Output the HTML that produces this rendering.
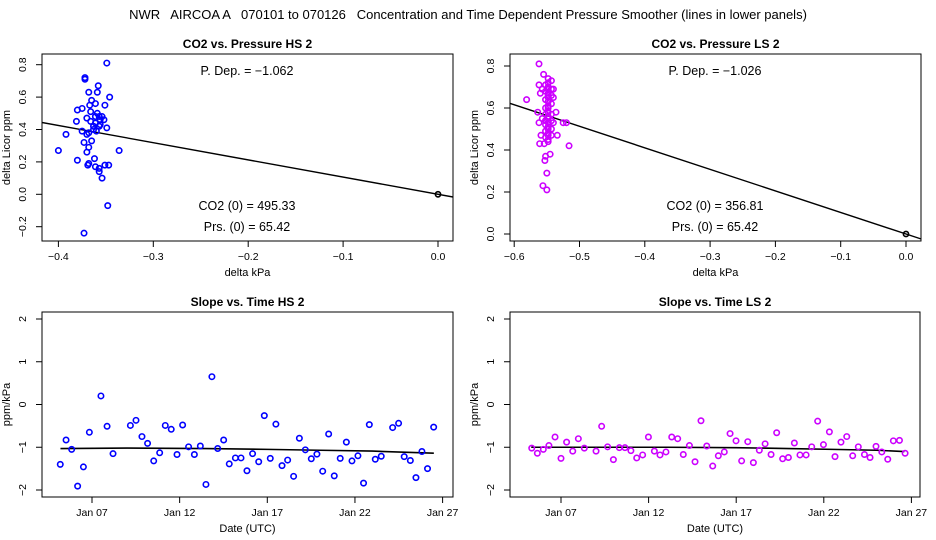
<!DOCTYPE html>
<html><head><meta charset="utf-8"><style>
html,body{margin:0;padding:0;background:#fff;}
svg{display:block;font-family:"Liberation Sans",sans-serif;}
#mt{white-space:pre;}
</style></head><body>
<svg id="c" width="936" height="540" viewBox="0 0 936 540">
<text id="mt" x="468" y="19" font-size="13" text-anchor="middle" xml:space="preserve">NWR   AIRCOA A   070101 to 070126   Concentration and Time Dependent Pressure Smoother (lines in lower panels)</text>
</svg>
<script>
// ---- Panel 1 data (CO2 vs Pressure HS 2)
const hsX=[-0.349,-0.372,-0.372,-0.358,-0.359,-0.368,-0.346,-0.351,-0.380,-0.375,-0.365,-0.367,-0.361,-0.381,-0.370,-0.366,-0.359,-0.357,-0.356,-0.361,-0.352,-0.349,-0.363,-0.357,-0.360,-0.363,-0.356,-0.354,-0.361,-0.366,-0.375,-0.392,-0.370,-0.368,-0.373,-0.365,-0.368,-0.400,-0.336,-0.370,-0.380,-0.362,-0.369,-0.368,-0.361,-0.357,-0.357,-0.347,-0.351,-0.354,-0.348,-0.373];
const hsY=[0.81,0.72,0.71,0.67,0.63,0.63,0.60,0.55,0.52,0.53,0.58,0.55,0.56,0.45,0.47,0.51,0.50,0.48,0.46,0.44,0.46,0.41,0.42,0.42,0.39,0.40,0.43,0.48,0.48,0.45,0.39,0.37,0.37,0.38,0.32,0.33,0.29,0.27,0.27,0.26,0.21,0.22,0.18,0.19,0.17,0.16,0.14,0.18,0.18,0.10,-0.07,-0.24];
const hsSlope=-1.062;
// ---- Panel 2 data (CO2 vs Pressure LS 2)
const lsX=[-0.562,-0.555,-0.581,-0.562,-0.560,-0.536,-0.534,-0.516,-0.525,-0.520,-0.564,-0.562,-0.559,-0.561,-0.554,-0.552,-0.553,-0.550,-0.556,-0.550,
-0.548,-0.548,-0.548,-0.548,-0.548,-0.548,-0.548,-0.548,-0.548,-0.548,-0.548,-0.548,-0.548,-0.548,-0.548,-0.548,-0.548,-0.548,-0.548,-0.548,
-0.552,-0.552,-0.552,-0.552,-0.552,-0.552,-0.552,-0.552,-0.552,-0.543,-0.543,-0.543,-0.543,-0.543,-0.543,-0.543,-0.543,-0.540,-0.540,-0.545,-0.557,-0.557,-0.540];
const lsY=[0.81,0.76,0.64,0.71,0.67,0.58,0.47,0.42,0.53,0.53,0.58,0.53,0.47,0.43,0.43,0.37,0.35,0.29,0.23,0.21,
0.74,0.72,0.70,0.69,0.67,0.66,0.65,0.63,0.61,0.60,0.58,0.56,0.55,0.53,0.51,0.50,0.48,0.47,0.45,0.44,
0.71,0.68,0.64,0.60,0.57,0.54,0.52,0.49,0.46,0.73,0.69,0.66,0.62,0.57,0.54,0.50,0.47,0.69,0.65,0.38,0.69,0.55,0.53];
const lsSlope=-1.026;
// ---- Panel 3 data (Slope vs Time HS 2), time in January day
const hsT=[5.19,5.52,5.84,6.18,6.51,6.85,7.51,7.86,8.20,9.19,9.51,9.85,10.17,10.52,10.86,11.18,11.52,11.85,12.17,12.51,12.84,13.18,13.50,13.84,14.17,14.51,14.83,15.18,15.50,15.84,16.16,16.51,16.83,17.17,17.49,17.84,18.16,18.50,18.83,19.17,19.51,19.83,20.16,20.50,20.82,21.16,21.51,21.83,22.17,22.49,22.82,23.16,23.50,24.15,24.49,24.81,25.16,25.48,25.82,26.14,26.49];
const hsV=[-1.40,-0.83,-1.05,-1.91,-1.46,-0.65,0.20,-0.51,-1.15,-0.49,-0.37,-0.75,-0.91,-1.32,-1.13,-0.49,-0.58,-1.17,-0.48,-0.99,-1.17,-0.97,-1.87,0.65,-1.03,-0.83,-1.39,-1.25,-1.25,-1.55,-1.15,-1.34,-0.26,-1.26,-0.46,-1.43,-1.30,-1.68,-0.79,-1.06,-1.27,-1.16,-1.56,-0.69,-1.67,-1.26,-0.88,-1.32,-1.20,-1.84,-0.47,-1.28,-1.21,-0.54,-0.44,-1.22,-1.31,-1.71,-1.10,-1.50,-0.53];
const hsLineT=[5.2,9,13.5,17,20,23,26.5];
const hsLineV=[-1.03,-1.02,-1.03,-1.05,-1.07,-1.09,-1.14];
// ---- Panel 4 data (Slope vs Time LS 2)
const lsT=[5.33,5.65,5.99,6.31,6.66,7.00,7.32,7.67,7.99,8.33,9.00,9.32,9.66,9.99,10.33,10.65,10.99,11.32,11.66,11.99,12.33,12.65,12.99,13.32,13.66,13.98,14.33,14.65,14.99,15.32,15.66,15.98,16.32,16.65,16.99,17.31,17.66,17.98,18.32,18.65,18.99,19.31,19.65,19.98,20.32,20.64,20.99,21.31,21.65,21.98,22.32,22.64,22.98,23.31,23.65,23.97,24.32,24.64,24.98,25.31,25.65,25.97,26.32,26.64];
const lsV=[-1.02,-1.14,-1.05,-0.96,-0.76,-1.26,-0.88,-1.09,-0.80,-1.02,-1.09,-0.51,-0.99,-1.29,-1.01,-1.01,-1.08,-1.25,-1.18,-0.76,-1.09,-1.18,-1.11,-0.76,-0.80,-1.17,-0.96,-1.34,-0.38,-0.97,-1.44,-1.20,-1.11,-0.68,-0.85,-1.32,-0.87,-1.36,-1.07,-0.92,-1.17,-0.66,-1.27,-1.24,-0.90,-1.18,-1.18,-0.99,-0.39,-0.94,-0.64,-1.22,-0.88,-0.75,-1.20,-0.99,-1.17,-1.24,-0.98,-1.11,-1.28,-0.85,-0.84,-1.14];
const lsLineT=[5.3,13,17,20,22.5,25,26.6];
const lsLineV=[-1.00,-1.00,-1.01,-1.03,-1.05,-1.07,-1.10];
const xTicks1=[-0.4,-0.3,-0.2,-0.1,0.0];
const yTicks1=[-0.2,0.0,0.2,0.4,0.6,0.8];
const xTicks2=[-0.6,-0.5,-0.4,-0.3,-0.2,-0.1,0.0];
const yTicks2=[0.0,0.2,0.4,0.6,0.8];
const dayTicks=[7,12,17,22,27];
const dayLabels=["Jan 07","Jan 12","Jan 17","Jan 22","Jan 27"];
const vTicks=[-2,-1,0,1,2];
const vLabels=["\u22122","\u22121","0","1","2"];

const svg=document.getElementById('c');
const NS='http://www.w3.org/2000/svg';
function mk(tag,attrs,parent){const e=document.createElementNS(NS,tag);for(const k in attrs)e.setAttribute(k,attrs[k]);(parent||svg).appendChild(e);return e;}
function fmt(v,d){const s=Math.abs(v).toFixed(d);return (v<0?'\u2212':'')+s;}

function panel(p){
  const g=mk('g',{});
  
  
  const box=mk('rect',{x:p.L,y:p.T,width:p.R-p.L,height:p.B-p.T,fill:'none',stroke:'#000','stroke-width':1},g);
  
  
  const t=mk('text',{x:(p.L+p.R)/2,y:p.T-6,'font-size':12,'font-weight':'bold','text-anchor':'middle'},g);
  t.textContent=p.title;
  
  
  p.xt.forEach((v,i)=>{const x=p.sx(v);
    mk('line',{x1:x,x2:x,y1:p.B,y2:p.B+6,stroke:'#000'},g);
    const l=mk('text',{x:x,y:p.B+19,'font-size':10.5,'text-anchor':'middle'},g);
    l.textContent=p.xl[i];
    
    });
  p.yt.forEach((v,i)=>{const y=p.sy(v);
    mk('line',{x1:p.L-6,x2:p.L,y1:y,y2:y,stroke:'#000'},g);
    const l=mk('text',{x:p.L-16,y:y,'font-size':10.5,'text-anchor':'middle',transform:`rotate(-90 ${p.L-16} ${y})`},g);
    l.textContent=p.yl[i];
    
    });
  const xa=mk('text',{x:(p.L+p.R)/2,y:p.B+35,'font-size':11,'text-anchor':'middle'},g);
  xa.textContent=p.xlab;
  
  
  const yx=p.L-32,ym=(p.T+p.B)/2;
  const ya=mk('text',{x:yx,y:ym,'font-size':11,'text-anchor':'middle',transform:`rotate(-90 ${yx} ${ym})`},g);
  ya.textContent=p.ylab;
  
  
  return g;
}
function clipFor(id,p){const cp=mk('clipPath',{id:id});mk('rect',{x:p.L,y:p.T,width:p.R-p.L,height:p.B-p.T},cp);}

const P1={name:'panel-co2-pressure-hs',L:42,R:453,T:54,B:241,title:'CO2 vs. Pressure HS 2',
  sx:v=>438+v*949,sy:v=>194.3-v*162,xlab:'delta kPa',ylab:'delta Licor ppm'};
P1.xt=xTicks1;P1.xl=xTicks1.map(v=>fmt(v,1));P1.yt=yTicks1;P1.yl=yTicks1.map(v=>fmt(v,1));
const P2={name:'panel-co2-pressure-ls',L:510,R:921,T:54,B:241,title:'CO2 vs. Pressure LS 2',
  sx:v=>906+v*653,sy:v=>234-v*210,xlab:'delta kPa',ylab:'delta Licor ppm'};
P2.xt=xTicks2;P2.xl=xTicks2.map(v=>fmt(v,1));P2.yt=yTicks2;P2.yl=yTicks2.map(v=>fmt(v,1));
const P3={name:'panel-slope-time-hs',L:42,R:453,T:312,B:497,title:'Slope vs. Time HS 2',
  sx:d=>92+(d-7)*17.53,sy:v=>404.5-v*42.75,xlab:'Date (UTC)',ylab:'ppm/kPa'};
P3.xt=dayTicks;P3.xl=dayLabels;P3.yt=vTicks;P3.yl=vLabels;
const P4={name:'panel-slope-time-ls',L:510,R:920,T:312,B:497,title:'Slope vs. Time LS 2',
  sx:d=>561+(d-7)*17.52,sy:v=>404.5-v*42.75,xlab:'Date (UTC)',ylab:'ppm/kPa'};
P4.xt=dayTicks;P4.xl=dayLabels;P4.yt=vTicks;P4.yl=vLabels;

[P1,P2,P3,P4].forEach((p,i)=>{p.g=panel(p);clipFor('cl'+i,p);p.clip='url(#cl'+i+')';});

function fitLine(p,slope){
  const xa=-1,xb=0.1;
  const l=mk('line',{x1:p.sx(xa),y1:p.sy(slope*xa),x2:p.sx(xb),y2:p.sy(slope*xb),stroke:'#000','stroke-width':1.4,'clip-path':p.clip},p.g);
  
  
  const o=mk('circle',{cx:p.sx(0),cy:p.sy(0),r:2.6,fill:'none',stroke:'#000','stroke-width':1.6},p.g);
  
  
}
function points(p,xs,ys,col,name){
  xs.forEach((x,i)=>{const c=mk('circle',{cx:p.sx(x),cy:p.sy(ys[i]),r:2.7,fill:'none',stroke:col,'stroke-width':1.6},p.g);
    
    });
}
function ann(p,x,y,s,nm){const t=mk('text',{x:x,y:y,'font-size':12.5,'text-anchor':'middle'},p.g);t.textContent=s;
  
  }
function smooth(p,ts,vs){
  const pl=mk('polyline',{points:ts.map((t,i)=>p.sx(t)+','+p.sy(vs[i])).join(' '),fill:'none',stroke:'#000','stroke-width':1.6},p.g);
  
  
}

fitLine(P1,hsSlope);
points(P1,hsX,hsY,'#0000ff','hs-point');
ann(P1,247,75,'P. Dep. =  '+fmt(hsSlope,3),'pressure-dependence-label');
ann(P1,247,210,'CO2 (0) =  495.33','co2-zero-label');
ann(P1,247,231,'Prs. (0) =  65.42','pressure-zero-label');

fitLine(P2,lsSlope);
points(P2,lsX,lsY,'#cc00ff','ls-point');
ann(P2,715,75,'P. Dep. =  '+fmt(lsSlope,3),'pressure-dependence-label');
ann(P2,715,210,'CO2 (0) =  356.81','co2-zero-label');
ann(P2,715,231,'Prs. (0) =  65.42','pressure-zero-label');

smooth(P3,hsLineT,hsLineV);
points(P3,hsT,hsV,'#0000ff','hs-slope-point');
smooth(P4,lsLineT,lsLineV);
points(P4,lsT,lsV,'#cc00ff','ls-slope-point');
</script>
</body></html>
